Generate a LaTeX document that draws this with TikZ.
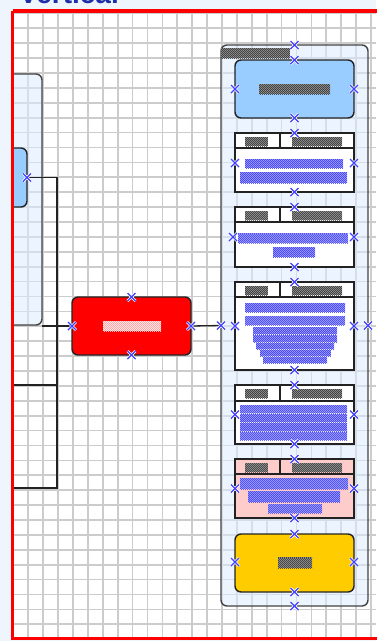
\documentclass[tikz,border=0pt]{standalone}
\usepackage{fontspec}
\setmainfont{Liberation Sans}
\usetikzlibrary{patterns.meta,calc}
\definecolor{bgblue}{HTML}{EEF5FD}
\definecolor{gridc}{HTML}{CCCCCC}
\definecolor{contfill}{HTML}{DDECFF}
\definecolor{lblue}{HTML}{99CCFF}
\definecolor{yell}{HTML}{FFCC00}
\definecolor{pink}{HTML}{FFCCCC}
\definecolor{xblue}{HTML}{4040FF}
\definecolor{gkblue}{HTML}{3838F8}
\definecolor{gkbluebg}{HTML}{9A9AFF}
\definecolor{gkdark}{HTML}{333333}
\definecolor{gkdarkbg}{HTML}{8C8C8C}
\definecolor{titleblue}{HTML}{1E2EA8}
\definecolor{edge}{HTML}{222222}
\pgfdeclarepattern{
  name=greek, type=uncolored,
  bottom left={\pgfpoint{0pt}{0pt}}, top right={\pgfpoint{2.4pt}{2.4pt}},
  tile size={\pgfpoint{2.4pt}{2.4pt}},
  code={\pgfpathcircle{\pgfpoint{0.6pt}{0.6pt}}{0.6pt}\pgfpathcircle{\pgfpoint{1.8pt}{1.8pt}}{0.6pt}\pgfusepath{fill}}}
\tikzset{
  x=1pt, y=-1pt,
  box/.style={draw=edge, line width=1.4pt, minimum width=119pt, inner sep=0pt, outer sep=0pt},
  rbox/.style={box, rounded corners=6pt},
  tbox/.style={box, fill=white},
  cont/.style={draw=edge!85, line width=1.4pt, rounded corners=6pt, fill=contfill, fill opacity=0.55, inner sep=0pt, outer sep=0pt},
  conn/.style={draw=edge, line width=1.3pt},
  inner/.style={draw=edge, line width=1.3pt},
  xm/.pic={\draw[white, line width=2.8pt] (-4,-4)--(4,4) (-4,4)--(4,-4);
           \draw[xblue, line width=1.4pt] (-4,-4)--(4,4) (-4,4)--(4,-4);}
}
\newcommand{\gkb}[4]{\fill[gkbluebg] (#1,#2) rectangle (#3,#4); \fill[pattern=greek, pattern color=gkblue] (#1,#2) rectangle (#3,#4);}
\newcommand{\gkd}[4]{\fill[gkdarkbg] (#1,#2) rectangle (#3,#4); \fill[pattern=greek, pattern color=gkdark] (#1,#2) rectangle (#3,#4);}
\newcommand{\gkw}[4]{\fill[red!35!white] (#1,#2) rectangle (#3,#4); \fill[pattern=greek, pattern color=white] (#1,#2) rectangle (#3,#4);}
\begin{document}
\begin{tikzpicture}
\useasboundingbox (0,0) rectangle (376,641);
\fill[bgblue] (0,0) rectangle (376,641);
\node[anchor=base west, text=titleblue, font=\bfseries\fontsize{28}{28}\selectfont, inner sep=0pt] (title) at (19,3) {Vertical};
\begin{scope}
\clip (12.5,11) rectangle (380,638.5);
\fill[white] (12.5,11) rectangle (380,638.5);
% grid
\foreach \k in {0,...,25} {\draw[gridc, line width=1.7pt] ({13.4+14.9*\k},0) -- ({13.4+14.9*\k},641);}
\foreach \k in {0,...,42} {\draw[gridc, line width=1.7pt] (0,{13.4+14.9*\k}) -- (376,{13.4+14.9*\k});}
% left container and node (mostly off canvas)
\node[cont, minimum width=140pt, minimum height=251pt] (lc) at (-28,199.5) {};
\node[rbox, fill=lblue, minimum height=59pt] (lb) at (-32.5,177.5) {};
\coordinate (offA) at (-20,385);
\coordinate (offB) at (-20,488);
\draw[conn] (lb.east) -- ++(30,0) |- (offA);
\draw[conn] (lb.east) -- ++(30,0) |- (offB);
% red node
\node[rbox, fill=red, minimum height=58pt] (rd) at (131.5,326) {};
\draw[conn] (lc.south east |- rd.west) -- (rd.west);
\gkw{103}{321}{161}{331}
% right container
\node[cont, minimum width=147pt, minimum height=561pt] (rc) at (294.5,325.5) {};
\gkd{221}{48}{290}{58}
\draw[conn] (rd.east) -- (rc.west);
% node 1
\node[rbox, fill=lblue, minimum height=58pt] (n1) at (294.5,89) {};
\gkd{259}{84}{330}{94}
% table 2
\node[tbox, minimum height=59pt] (n2) at (294.5,162.5) {};
\draw[inner] (n2.west |- 0,148) -- (n2.east |- 0,148);
\draw[inner] (280,133) -- (280,148);
\gkd{245}{137}{268}{146}\gkd{292}{137}{342}{146}
\gkb{245}{159}{343}{168}\gkb{240}{172}{347}{183}
% table 3
\node[tbox, minimum height=60pt] (n3) at (294.5,237) {};
\draw[inner] (n3.west |- 0,222) -- (n3.east |- 0,222);
\draw[inner] (280,207) -- (280,222);
\gkd{245}{211}{268}{220}\gkd{292}{211}{342}{220}
\gkb{238}{233}{348}{243}\gkb{273}{247}{315}{257}
% table 4
\node[tbox, minimum height=88pt] (n4) at (294.5,326) {};
\draw[inner] (n4.west |- 0,297) -- (n4.east |- 0,297);
\draw[inner] (280,282) -- (280,297);
\gkd{245}{286}{268}{295}\gkd{292}{286}{342}{295}
\gkb{245}{303}{345}{312}\gkb{245}{316}{345}{325}\gkb{253}{327}{337}{334}
\gkb{253}{335}{337}{342}\gkb{256}{343}{334}{349}\gkb{260}{350}{331}{356}\gkb{263}{357}{327}{363}
% table 5
\node[tbox, minimum height=59pt] (n5) at (294.5,414.5) {};
\draw[inner] (n5.west |- 0,401) -- (n5.east |- 0,401);
\draw[inner] (280,385) -- (280,401);
\gkd{245}{389}{268}{398}\gkd{292}{389}{342}{398}
\gkb{240}{405}{347}{413}\gkb{240}{414}{347}{422}\gkb{240}{423}{347}{431}\gkb{240}{432}{347}{440}
% table 6 (pink)
\node[box, fill=pink, minimum height=59pt] (n6) at (294.5,488.5) {};
\draw[inner] (n6.west |- 0,474) -- (n6.east |- 0,474);
\draw[inner] (280,459) -- (280,474);
\gkd{245}{463}{268}{472}\gkd{292}{463}{342}{472}
\gkb{240}{478}{348}{489}\gkb{248}{491}{340}{502}\gkb{268}{504}{322}{513}
% node 7
\node[rbox, fill=yell, minimum height=58pt] (n7) at (294.5,563) {};
\gkd{278}{557}{312}{568}
% markers
\foreach \p in {rc.north, rc.south, rc.west, rc.east, lb.east, rd.north, rd.south, rd.west, rd.east}
  {\pic at (\p) {xm};}
\foreach \n in {n1,n2,n3,n4,n5,n6,n7}
  {\pic at (\n.north) {xm}; \pic at (\n.south) {xm};}
\pic at (n1.west) {xm}; \pic at (n1.east) {xm};
\pic at ($(n2.west)+(0,0.5)$) {xm}; \pic at ($(n2.east)+(0,0.5)$) {xm};
\pic at ($(n3.west)+(-2,0)$) {xm}; \pic at (n3.east) {xm};
\pic at (n4.west) {xm}; \pic at (n4.east) {xm};
\pic at (n5.west) {xm}; \pic at (n5.east) {xm};
\pic at (n6.west) {xm}; \pic at (n6.east) {xm};
\pic at ($(n7.west)+(0,-1)$) {xm}; \pic at ($(n7.east)+(0,-1)$) {xm};
\end{scope}
\draw[red, line width=3.5pt] (12.5,11) -- (12.5,638.5) -- (400,638.5) (12.5,11) -- (400,11);
\end{tikzpicture}
\end{document}
